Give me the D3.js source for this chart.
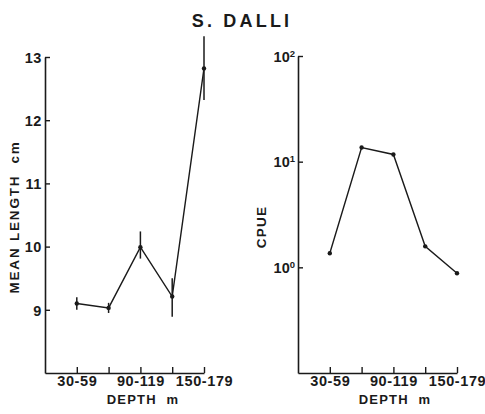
<!DOCTYPE html>
<html><head><meta charset="utf-8">
<script src="https://cdn.jsdelivr.net/npm/d3@7"></script>
<style>
body{margin:0;background:#fff;}
svg{display:block;font-family:"Liberation Sans",Arial,Helvetica,sans-serif;}
text{fill:#1a1a1a;}
</style></head><body>
<svg id="c" width="485" height="414"></svg>
<script>
const title = "S. DALLI";
const categories = ["30-59","60-89","90-119","120-149","150-179"];
const labeledCats = ["30-59","90-119","150-179"];
const meanLength = [9.1, 9.03, 9.99, 9.21, 12.82];
const lengthErrLow = [9.0, 8.95, 9.81, 8.89, 12.32];
const lengthErrHigh = [9.2, 9.11, 10.24, 9.5, 13.33];
const cpue = [1.36, 13.6, 11.7, 1.58, 0.88];
const lengthTicks = [9, 10, 11, 12, 13];
const cpueTicks = [1, 10, 100];
const cpueTickExp = ["0", "1", "2"];

const svg = d3.select("#c");
const ink = "#1a1a1a";

svg.append("text").attr("x", 242).attr("y", 27).attr("text-anchor","middle")
  .attr("font-size", 18).attr("font-weight","bold").attr("letter-spacing", 3.2)
  .text(title);

function styleAxis(g){
  g.selectAll("path.domain").attr("stroke", ink).attr("stroke-width", 1.6);
  g.selectAll(".tick line").attr("stroke", ink).attr("stroke-width", 1.4);
  g.selectAll(".tick text").attr("fill", ink).attr("font-size", 14.5).attr("font-weight","bold").attr("font-family","Liberation Sans, Arial, sans-serif").attr("letter-spacing", 0.6);
}

// ---------- Left panel ----------
const xL = d3.scaleLinear().domain([-1, 4]).range([45, 204]);
const yL = d3.scaleLinear().domain([8, 13]).range([373, 57]);

const gxL = svg.append("g").attr("transform","translate(0,373)")
  .call(d3.axisBottom(xL).tickValues([0,1,2,3,4]).tickSizeInner(-6).tickSizeOuter(0).tickPadding(3)
    .tickFormat(i => labeledCats.includes(categories[i]) ? categories[i] : ""));
styleAxis(gxL);
const gyL = svg.append("g").attr("transform","translate(45,0)")
  .call(d3.axisLeft(yL).tickValues(lengthTicks).tickSizeInner(-5).tickSizeOuter(0).tickPadding(3).tickFormat(d3.format("d")));
styleAxis(gyL);
gyL.selectAll(".tick text").attr("dy","0.36em");

svg.append("text").attr("transform","translate(19,217) rotate(-90)").attr("text-anchor","middle")
  .attr("font-size", 13.5).attr("font-weight","bold").attr("letter-spacing", 1.8)
  .style("white-space","pre").text("MEAN LENGTH  cm");
svg.append("text").attr("x", 143).attr("y", 404).attr("text-anchor","middle")
  .attr("font-size", 13).attr("font-weight","bold").attr("letter-spacing", 1.2)
  .style("white-space","pre").text("DEPTH  m");

const line = d3.line();
svg.append("path").attr("fill","none").attr("stroke", ink).attr("stroke-width", 1.4)
  .attr("d", line(meanLength.map((v,i)=>[xL(i), yL(v)])));
svg.append("g").selectAll("line").data(meanLength).join("line")
  .attr("x1",(d,i)=>xL(i)).attr("x2",(d,i)=>xL(i))
  .attr("y1",(d,i)=>yL(lengthErrLow[i])).attr("y2",(d,i)=>yL(lengthErrHigh[i]))
  .attr("stroke", ink).attr("stroke-width", 1.5);
svg.append("g").selectAll("circle").data(meanLength).join("circle")
  .attr("cx",(d,i)=>xL(i)).attr("cy",d=>yL(d)).attr("r",2.2).attr("fill",ink);

// ---------- Right panel ----------
const xR = d3.scaleLinear().domain([-1, 4]).range([298, 457]);
const yR = d3.scaleLog().domain([0.1, 100]).range([373, 56]);

const gxR = svg.append("g").attr("transform","translate(0,373)")
  .call(d3.axisBottom(xR).tickValues([0,1,2,3,4]).tickSizeInner(-6).tickSizeOuter(0).tickPadding(3)
    .tickFormat(i => labeledCats.includes(categories[i]) ? categories[i] : ""));
styleAxis(gxR);
const gyR = svg.append("g").attr("transform","translate(298,0)")
  .call(d3.axisLeft(yR).tickValues(cpueTicks).tickSizeInner(-5).tickSizeOuter(0).tickPadding(3).tickFormat(""));
styleAxis(gyR);
gyR.selectAll(".tick").each(function(d,i){
  const t = d3.select(this).append("text").attr("x",-3).attr("y",0).attr("dy","0.36em")
    .attr("text-anchor","end").attr("fill",ink).attr("font-size",14.5).attr("font-weight","bold");
  t.append("tspan").text("10");
  t.append("tspan").attr("font-size",9.5).attr("dy","-0.55em").text(cpueTickExp[i]);
});

svg.append("text").attr("transform","translate(266,227) rotate(-90)").attr("text-anchor","middle")
  .attr("font-size", 13.5).attr("font-weight","bold").attr("letter-spacing", 1.2).text("CPUE");
svg.append("text").attr("x", 395).attr("y", 404).attr("text-anchor","middle")
  .attr("font-size", 13).attr("font-weight","bold").attr("letter-spacing", 1.2)
  .style("white-space","pre").text("DEPTH  m");

svg.append("path").attr("fill","none").attr("stroke", ink).attr("stroke-width", 1.4)
  .attr("d", line(cpue.map((v,i)=>[xR(i), yR(v)])));
svg.append("g").selectAll("circle").data(cpue).join("circle")
  .attr("cx",(d,i)=>xR(i)).attr("cy",d=>yR(d)).attr("r",2.2).attr("fill",ink);
</script>
</body></html>
